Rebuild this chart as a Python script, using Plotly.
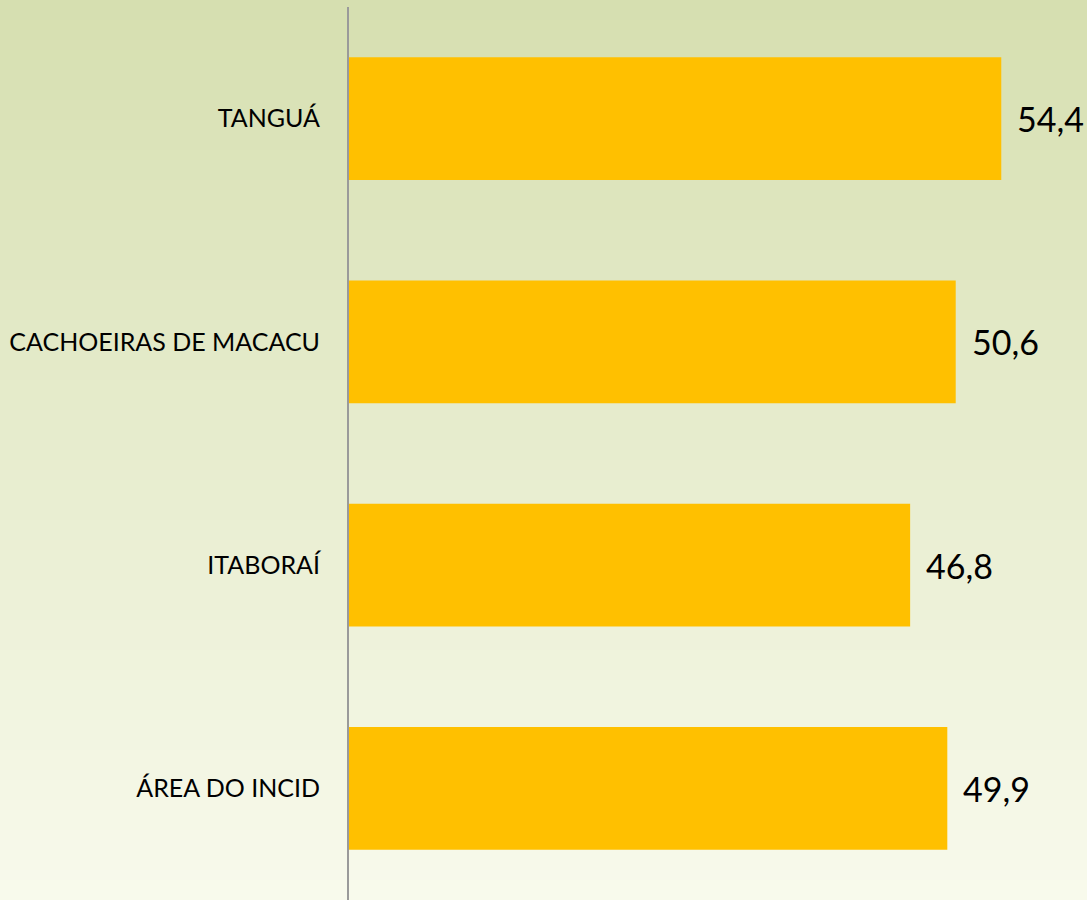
"""
Horizontal bar chart: values by municipality
"""

import plotly.graph_objects as go

# Chart data
categories = ['TANGUÁ', 'CACHOEIRAS DE MACACU', 'ITABORAÍ', 'ÁREA DO INCID']
values = [54.4, 50.6, 46.8, 49.9]
value_labels = ['54,4', '50,6', '46,8', '49,9']

WIDTH, HEIGHT = 1087, 900
MARGIN = dict(l=349, r=0, t=7, b=0)

fig = go.Figure()

fig.add_trace(go.Bar(
    y=categories,
    x=values,
    orientation='h',
    marker=dict(color='#FFC000', line=dict(width=0)),
    hoverinfo='skip',
))

# value labels just to the right of each bar
for cat, val, lab in zip(categories, values, value_labels):
    fig.add_annotation(
        x=val, y=cat, text=lab,
        xanchor='left', yanchor='middle', xshift=14, showarrow=False,
        font=dict(family='Lato', size=34, color='#000000'),
    )

# vertical background gradient built from thin strips
top = (214, 223, 176)
bottom = (248, 250, 236)
plot_h = HEIGHT - MARGIN['t'] - MARGIN['b']
plot_w = WIDTH - MARGIN['l'] - MARGIN['r']
n_strips = 90
for i in range(n_strips):
    f = i / (n_strips - 1)
    r, g, b = [round(a + (c - a) * f) for a, c in zip(top, bottom)]
    py0 = HEIGHT * i / n_strips
    py1 = HEIGHT * (i + 1) / n_strips + 1
    fig.add_shape(
        type='rect', layer='below',
        xref='paper', yref='paper',
        x0=-MARGIN['l'] / plot_w - 0.01, x1=1.01,
        y0=(HEIGHT - MARGIN['b'] - py1) / plot_h,
        y1=(HEIGHT - MARGIN['b'] - py0) / plot_h,
        fillcolor=f'rgb({r},{g},{b})', line=dict(width=0),
    )

fig.update_layout(
    width=WIDTH,
    height=HEIGHT,
    margin=MARGIN,
    paper_bgcolor='rgba(0,0,0,0)',
    plot_bgcolor='rgba(0,0,0,0)',
    bargap=0.45,
    showlegend=False,
    xaxis=dict(
        range=[0, 61.55],
        visible=False,
        showgrid=False,
        zeroline=False,
    ),
    yaxis=dict(
        autorange='reversed',
        showgrid=False,
        zeroline=False,
        showline=True,
        linecolor='#9A9A9A',
        linewidth=2,
        ticks='',
        ticklabelstandoff=22,
        tickfont=dict(family='Lato', size=25, color='#000000'),
    ),
)

fig.write_html(
    "out.html",
    config={'displayModeBar': False},
    post_script="document.body.style.margin='0';",
)
